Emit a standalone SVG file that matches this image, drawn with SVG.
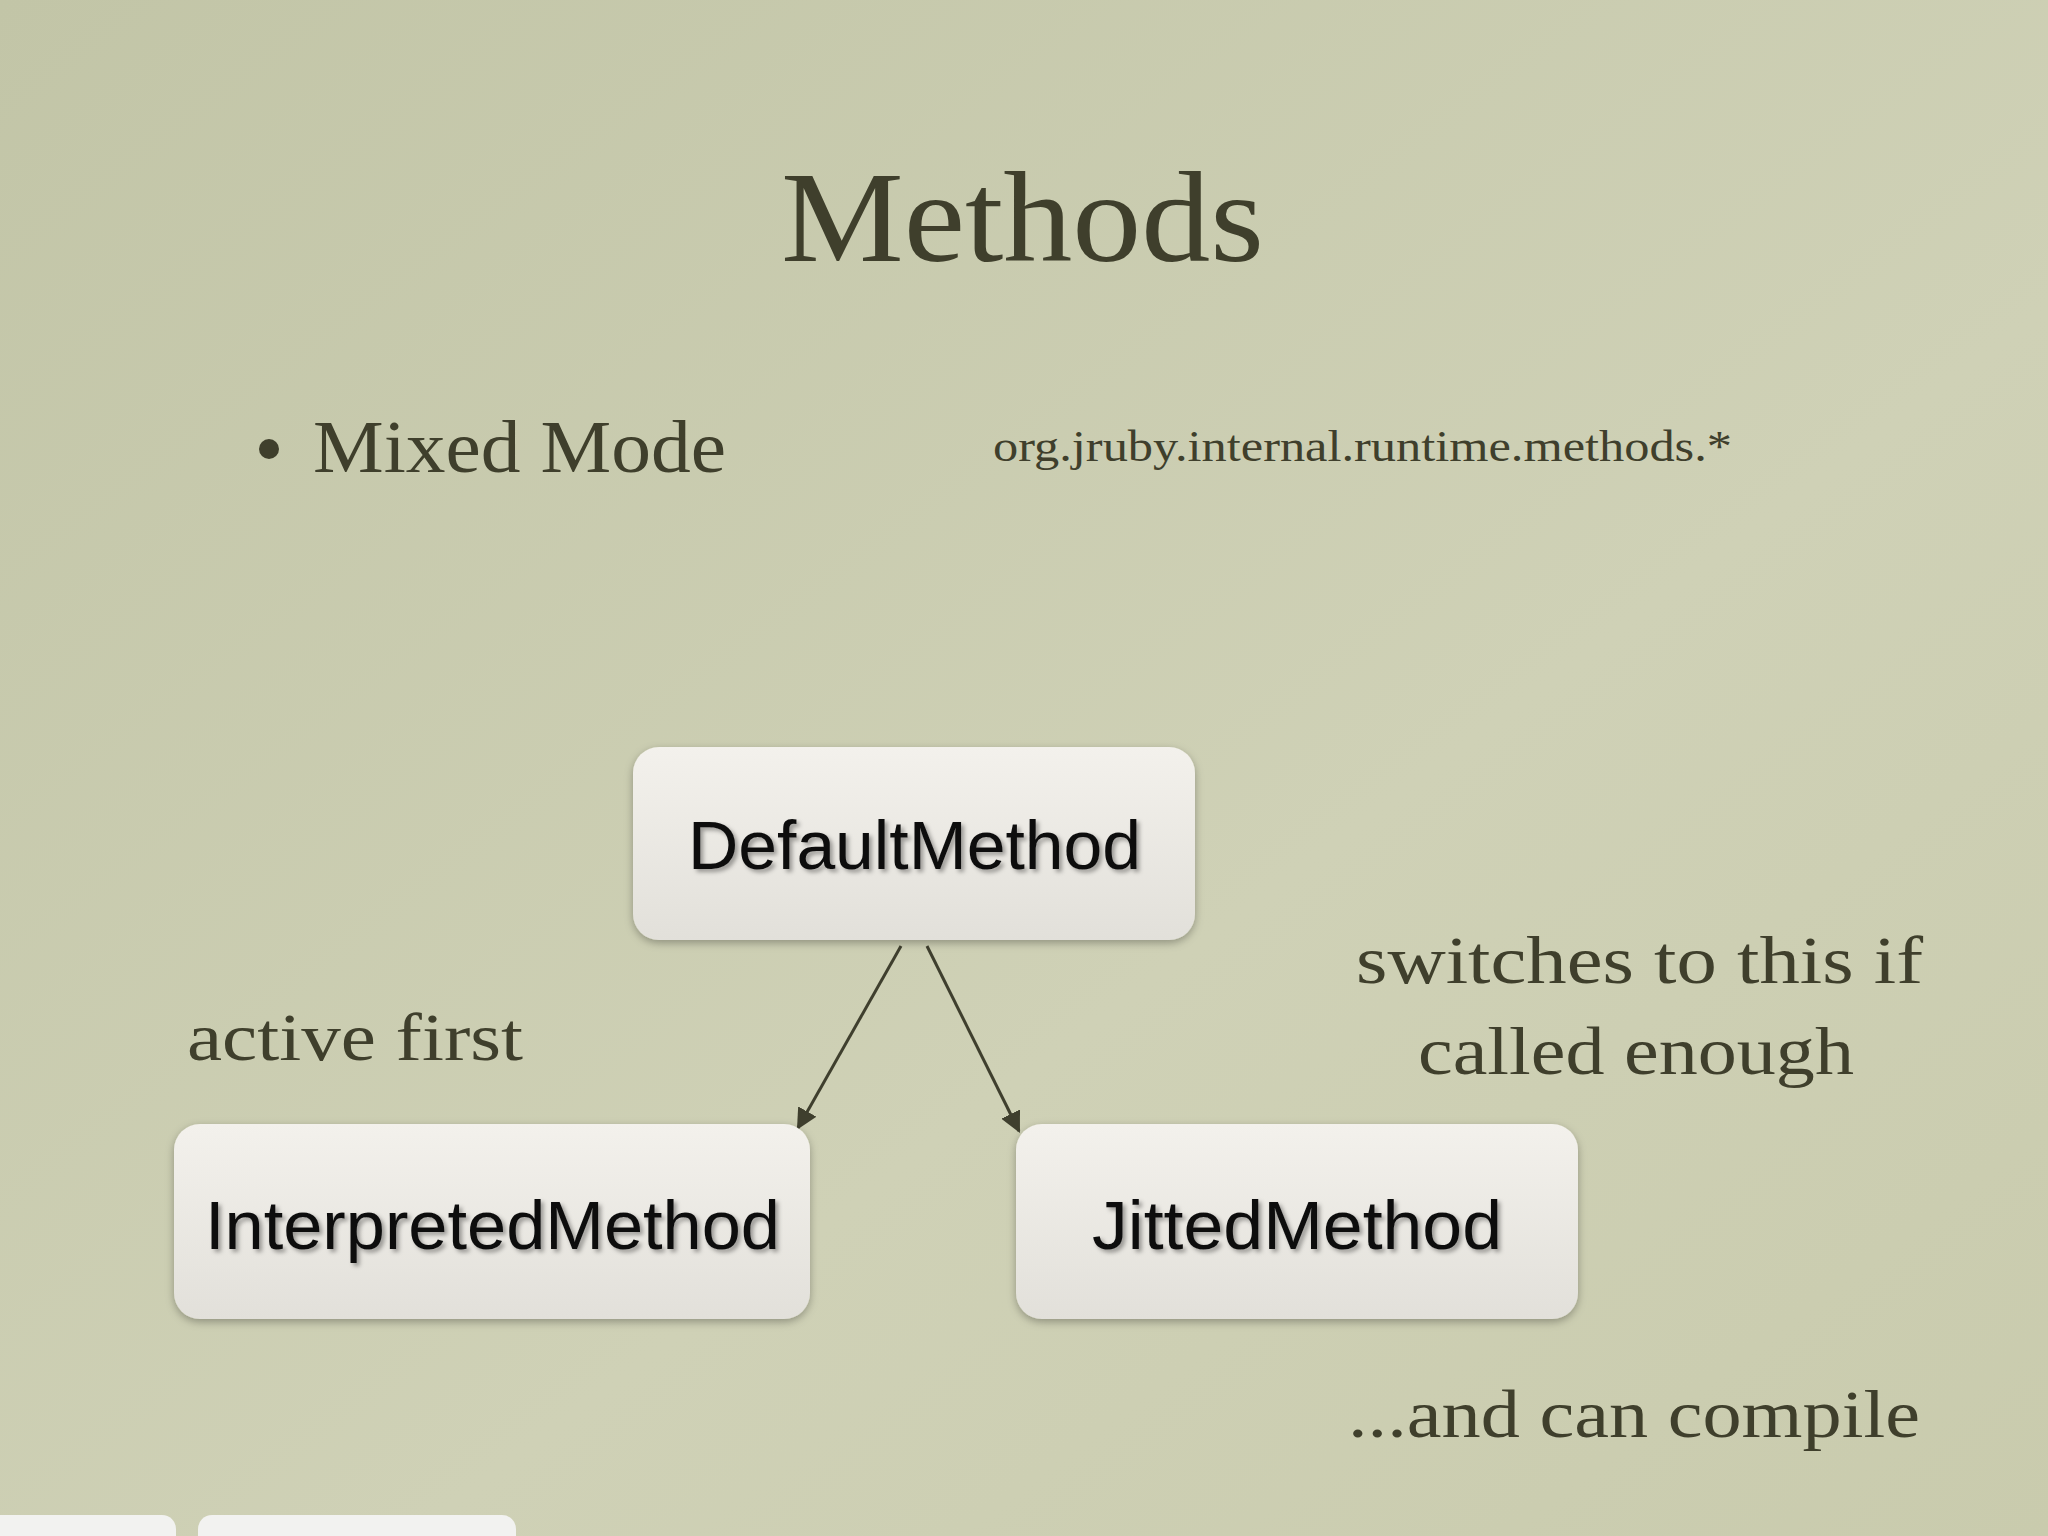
<svg xmlns="http://www.w3.org/2000/svg" width="2048" height="1536" viewBox="0 0 2048 1536">
<defs>
<linearGradient id="bg" x1="0" y1="0" x2="1" y2="1">
<stop offset="0" stop-color="#c2c5a7"/><stop offset="0.6" stop-color="#cfd1b6"/><stop offset="1" stop-color="#c9cbad"/>
</linearGradient>
<linearGradient id="box" x1="0" y1="0" x2="0" y2="1">
<stop offset="0" stop-color="#f3f1ec"/><stop offset="1" stop-color="#e2e0da"/>
</linearGradient>
<filter id="sh" x="-10%" y="-10%" width="120%" height="130%"><feDropShadow dx="0" dy="3" stdDeviation="4" flood-opacity="0.3"/></filter>
<filter id="tsh"><feDropShadow dx="3" dy="3" stdDeviation="2" flood-opacity="0.35"/></filter>
<marker id="ah" viewBox="0 0 10 10" refX="9" refY="5" markerWidth="7" markerHeight="7" orient="auto"><path d="M0,0 L10,5 L0,10 z" fill="#3f3f2e"/></marker>
</defs>
<style>
.s{font-family:"Liberation Serif",serif;fill:#3f3f2c}
.n{font-family:"Liberation Sans",Arial,sans-serif;font-size:68px;fill:#111;filter:url(#tsh)}
.b{fill:url(#box);filter:url(#sh)}
</style>
<rect width="2048" height="1536" fill="url(#bg)"/>
<text class="s" x="781" y="261" font-size="130" textLength="483" lengthAdjust="spacingAndGlyphs">Methods</text>
<circle cx="269" cy="449" r="10" fill="#3f3f2c"/>
<text class="s" x="313" y="472" font-size="74" textLength="413" lengthAdjust="spacingAndGlyphs">Mixed Mode</text>
<text class="s" x="993" y="461" font-size="44" textLength="739" lengthAdjust="spacingAndGlyphs">org.jruby.internal.runtime.methods.*</text>
<text class="s" x="187" y="1060" font-size="68" textLength="336" lengthAdjust="spacingAndGlyphs">active first</text>
<text class="s" x="1356" y="983" font-size="68" textLength="567" lengthAdjust="spacingAndGlyphs">switches to this if</text>
<text class="s" x="1418" y="1074" font-size="68" textLength="436" lengthAdjust="spacingAndGlyphs">called enough</text>
<text class="s" x="1348" y="1437" font-size="68" textLength="572" lengthAdjust="spacingAndGlyphs">...and can compile</text>
<g id="connectors" stroke="#3f3f2e" stroke-width="3" fill="none" marker-end="url(#ah)">
<line x1="901" y1="946" x2="798" y2="1128"/>
<line x1="927" y1="946" x2="1019" y2="1131"/>
</g>
<g id="default"><rect class="b" x="633" y="747" width="562" height="193" rx="26"/><text class="n" x="688" y="869" textLength="453" lengthAdjust="spacingAndGlyphs">DefaultMethod</text></g>
<g id="interpreted"><rect class="b" x="174" y="1124" width="636" height="195" rx="26"/><text class="n" x="205" y="1249" textLength="575" lengthAdjust="spacingAndGlyphs">InterpretedMethod</text></g>
<g id="jitted"><rect class="b" x="1016" y="1124" width="562" height="195" rx="26"/><text class="n" x="1092" y="1249" textLength="410" lengthAdjust="spacingAndGlyphs">JittedMethod</text></g>
<rect x="-20" y="1515" width="196" height="40" rx="14" fill="#f2f2f0"/>
<rect x="198" y="1515" width="318" height="40" rx="14" fill="#f2f2f0"/>
</svg>
